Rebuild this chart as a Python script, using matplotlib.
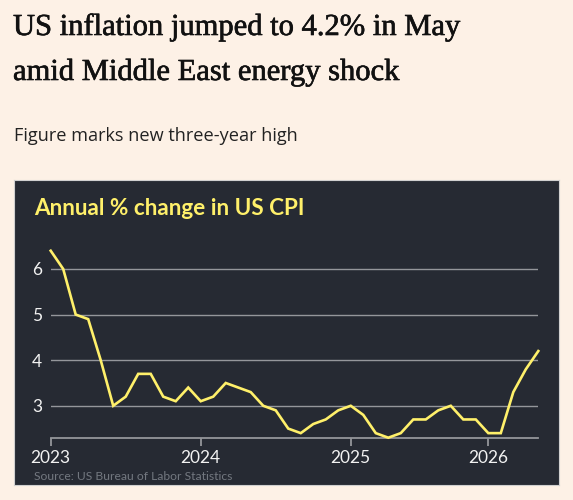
#!/usr/bin/env python3
"""US CPI annual change chart (FT style)."""

import matplotlib
matplotlib.use("Agg")
import matplotlib.pyplot as plt
import matplotlib.patheffects as pe

# ── Data ─────────────────────────────────────────────────────────────────────
# monthly readings Jan 2023 .. May 2026 (Oct 2025 not published)
cpi_2023 = [6.4, 6.0, 5.0, 4.9, 4.0, 3.0, 3.2, 3.7, 3.7, 3.2, 3.1, 3.4]
cpi_2024 = [3.1, 3.2, 3.5, 3.4, 3.3, 3.0, 2.9, 2.5, 2.4, 2.6, 2.7, 2.9]
cpi_2025 = [3.0, 2.8, 2.4, 2.3, 2.4, 2.7, 2.7, 2.9, 3.0, 2.7, 2.7]
cpi_2026 = [2.4, 2.4, 3.3, 3.8, 4.2]
cpi = cpi_2023 + cpi_2024 + cpi_2025 + cpi_2026

year_labels = ["2023", "2024", "2025", "2026"]
year_pos = [0, len(cpi_2023), len(cpi_2023) + len(cpi_2024),
            len(cpi_2023) + len(cpi_2024) + len(cpi_2025)]
y_ticks = [3, 4, 5, 6]

BG = "#FDF1E6"
PANEL = "#262A33"
YELLOW = "#FFF06A"
GRID = "#94969B"

W, H = 573, 500
fig = plt.figure(figsize=(W / 100, H / 100), dpi=100, facecolor=BG)

def fx(px): return px / W
def fy(py): return 1 - py / H

# dark panel (its own axes, below the chart)
bg = fig.add_axes([fx(14), fy(485), fx(545), (485 - 180) / H], zorder=0)
bg.set_facecolor(PANEL)
bg.set_xticks([]); bg.set_yticks([])
for s in bg.spines.values():
    s.set_color("#D0D0D0"); s.set_linewidth(0.8)

# headline + standfirst
thick = [pe.withStroke(linewidth=0.45, foreground="#111111")]
fig.text(fx(13), fy(35), "US inflation jumped to 4.2% in May",
         fontsize=22, family="Liberation Serif", color="#111111", va="baseline",
         path_effects=thick)
fig.text(fx(13), fy(80), "amid Middle East energy shock",
         fontsize=22, family="Liberation Serif", color="#111111", va="baseline",
         path_effects=thick)
fig.text(fx(14), fy(141.5), "Figure marks new three-year high",
         fontsize=13.1, family="Open Sans", color="#222222", va="baseline")

# chart title + source
fig.text(fx(34), fy(215), "Annual % change in US CPI",
         fontsize=16.2, family="Lato", fontweight="bold", color=YELLOW, va="baseline")
fig.text(fx(34), fy(480), "Source: US Bureau of Labor Statistics",
         fontsize=8.7, family="Lato", color="#737880", va="baseline")

# ── Axes ─────────────────────────────────────────────────────────────────────
x0, x1 = 50.7, 538.3
ylo, yhi = 2.3, 6.5
py_lo = 437.7
px_per = 45.6
py_hi = py_lo - (yhi - ylo) * px_per
ax = fig.add_axes([fx(x0), fy(py_lo), fx(x1) - fx(x0), (py_lo - py_hi) / H], zorder=2)
ax.set_facecolor("none")
ax.set_xlim(0, len(cpi) - 1)
ax.set_ylim(ylo, yhi)

for v in y_ticks:
    ax.axhline(v, color=GRID, linewidth=1.0, zorder=1)
ax.plot(range(len(cpi)), cpi, color=YELLOW, linewidth=1.9,
        solid_joinstyle="miter", zorder=3, clip_on=False)

for s in ["top", "right", "left"]:
    ax.spines[s].set_visible(False)
ax.spines["bottom"].set_color(GRID)
ax.spines["bottom"].set_linewidth(1.3)

ax.set_yticks(y_ticks)
ax.set_yticklabels([str(v) for v in y_ticks])
ax.tick_params(axis="y", length=0, pad=6, labelsize=12.5, labelcolor="#F2F2F2")
ax.set_xticks(year_pos)
ax.set_xticklabels(year_labels)
ax.tick_params(axis="x", length=6, width=1.3, color=GRID, pad=3,
               labelsize=12.5, labelcolor="#F2F2F2")
for lbl in ax.get_xticklabels() + ax.get_yticklabels():
    lbl.set_family("Lato")

fig.savefig("out.png", dpi=100, facecolor=BG)
print("Saved: out.png")
